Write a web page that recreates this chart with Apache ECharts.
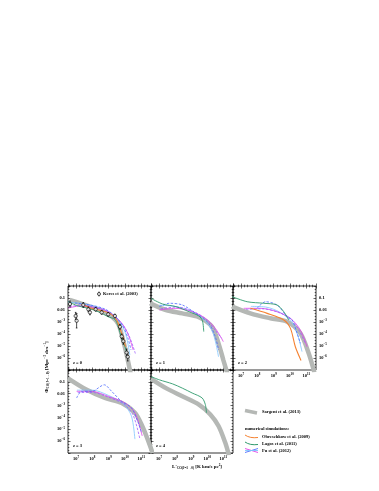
<!DOCTYPE html>
<html>
<head>
<meta charset="utf-8">
<script src="https://cdn.jsdelivr.net/npm/echarts@6/dist/echarts.min.js"></script>
<style>
html, body { margin: 0; padding: 0; background: #fff; }
#chart { width: 379px; height: 491px; }
</style>
</head>
<body>
<div id="chart"></div>
<script>
// all values are log10: [log L'CO (K km/s pc^2), log Phi (Mpc^-3 dex^-1)]
const zLabels = ['z = 0', 'z = 1', 'z = 2', 'z = 3', 'z = 4'];
const xTicks = [7, 8, 9, 10, 11];
const yTicks = [-1, -2, -3, -4, -5, -6];

// Sargent et al. (2013), one per panel
const sargent = [
    [[6.6, -1.15], [7.5, -1.55], [8.5, -2.05], [9.2, -2.55], [9.6, -3.2], [9.9, -4.6], [10.1, -5.7], [10.35, -7.3]],
    [[6.45, -1.45], [7.43, -2.0], [8.45, -2.28], [9.48, -2.6], [10.29, -3.39], [10.7, -4.78], [11.0, -6.17], [11.25, -7.3]],
    [[6.45, -1.72], [7.57, -2.28], [8.8, -2.69], [9.83, -2.97], [10.64, -3.94], [11.15, -5.6], [11.5, -7.2]],
    [[6.5, -0.7], [7.65, -1.67], [8.77, -2.36], [9.8, -2.78], [10.61, -3.61], [11.06, -4.72], [11.39, -5.83], [11.7, -7]],
    [[6.5, -0.75], [7.43, -1.53], [8.45, -2.22], [9.48, -2.92], [10.19, -3.75], [10.7, -4.72], [11.11, -6.1], [11.35, -7.2]]
];

// Obreschkow et al. (2009)
const obreschkow = [
    [[7.34, -1.5], [7.95, -1.86], [8.57, -2.06], [9.08, -2.28], [9.49, -2.83], [9.69, -3.53], [9.9, -4.36], [10.04, -5.06]],
    null,
    [[7.57, -1.86], [8.6, -2.28], [9.62, -2.83], [10.03, -3.53], [10.33, -5.06], [10.68, -6.2]],
    null,
    null
];

// Lagos et al. (2011)
const lagos = [
    [[6.52, -1.31], [7.13, -1.67], [7.75, -1.86], [8.36, -2.14], [8.97, -2.56], [9.38, -2.78], [9.59, -3.39], [9.79, -4.36], [10.0, -5.06], [10.1, -5.5]],
    [[6.5, -1.03], [7.22, -1.5], [8.05, -1.72], [8.86, -2.14], [9.48, -2.5], [9.7, -2.9], [9.78, -3.8]],
    [[6.45, -0.89], [7.37, -1.31], [8.39, -1.44], [9.2, -1.58], [9.62, -2.14], [9.92, -2.83]],
    null,
    [[6.5, -0.56], [7.02, -0.83], [7.84, -1.17], [8.45, -1.53], [9.06, -1.94], [9.68, -2.36], [9.88, -2.92], [9.95, -3.61]]
];

// Fu et al. (2012), four variants
const fuMagenta = [
    [[6.52, -1.83], [7.23, -1.67], [8.2, -1.8], [8.77, -2.0], [9.2, -2.33], [9.57, -2.75], [9.93, -3.33], [10.24, -4.17], [10.5, -5.33]],
    [[7.02, -2.0], [8.05, -1.86], [9.06, -2.14], [9.88, -2.69], [10.5, -3.53], [11.0, -4.64]],
    [[7.16, -1.86], [8.19, -1.86], [9.2, -2.14], [10.03, -2.69], [10.64, -3.67], [11.05, -5.06]],
    [[7.03, -1.8], [7.95, -1.8], [8.97, -2.22], [10.0, -2.78], [10.61, -3.61], [11.06, -5.56]],
    null
];
const fuViolet = [
    [[6.6, -1.7], [7.4, -1.6], [8.3, -1.85], [9.0, -2.2], [9.5, -2.7], [9.95, -3.4], [10.3, -4.3], [10.65, -5.67]],
    [[7.1, -1.9], [8.1, -1.75], [9.1, -2.1], [9.9, -2.75], [10.5, -3.7], [10.9, -4.36]],
    [[7.3, -1.95], [8.3, -1.9], [9.3, -2.2], [10.1, -2.8], [10.6, -3.8], [10.95, -4.8]],
    [[7.1, -1.9], [8.0, -1.9], [9.0, -2.3], [9.95, -2.9], [10.5, -3.8], [10.92, -5.83]],
    null
];
const fuLightBlue = [
    [[6.5, -1.33], [7.54, -1.5], [8.46, -1.83], [9.2, -2.33], [9.69, -3.0], [10.06, -4.08], [10.3, -5.75]],
    [[7.0, -1.6], [8.0, -1.7], [9.0, -2.1], [9.8, -2.8], [10.35, -3.9], [10.7, -5.9]],
    [[7.6, -1.7], [8.5, -1.75], [9.4, -2.2], [10.1, -3.0], [10.5, -4.2], [10.74, -5.47]],
    [[7.05, -1.7], [8.0, -1.7], [9.0, -2.15], [9.9, -2.85], [10.4, -3.89], [10.61, -5.83]],
    null
];
const fuBlueDash = [
    [[6.93, -1.42], [7.85, -1.58], [8.77, -1.92], [9.38, -2.5], [9.87, -3.33], [10.18, -4.33], [10.37, -5.33]],
    [[7.02, -1.72], [7.63, -1.44], [8.45, -1.58], [9.27, -2.28], [10.09, -3.11], [10.5, -4.22], [10.7, -5.33]],
    [[7.98, -1.86], [8.5, -1.31], [9.2, -1.58], [9.83, -2.56], [10.13, -2.83], [10.44, -3.94], [10.64, -4.78]],
    [[7.03, -2.36], [7.34, -1.8], [7.95, -1.8], [8.73, -1.25], [9.18, -1.8], [9.79, -2.64], [10.4, -3.19], [10.81, -4.44], [11.02, -5.28]],
    null
];

// Keres et al. (2003), z = 0 only
const keresL = [6.62, 6.97, 7.03, 7.44, 7.75, 7.85, 8.2, 8.57, 8.97, 9.38, 9.69, 9.8, 9.9, 10.1, 10.17];
const keresPhi = [-1.5, -2.5, -2.9, -1.58, -1.94, -2.2, -1.94, -2.2, -2.36, -2.5, -3.4, -4.2, -4.6, -5.55, -5.9];
const keresErr = [0.25, 0.3, 0.6, 0.2, 0.2, 0.2, 0.15, 0.15, 0.15, 0.15, 0.2, 0.2, 0.25, 0.3, 0.35];

const FONT = 'Liberation Serif';
const panels = [
    { left: 68, top: 286, w: 83, h: 84, xLab: false, yLab: 'left' },
    { left: 151, top: 286, w: 82, h: 84, xLab: false, yLab: null },
    { left: 233, top: 286, w: 83, h: 84, xLab: true, yLab: 'right' },
    { left: 68, top: 370, w: 83, h: 83, xLab: true, yLab: 'left' },
    { left: 151, top: 370, w: 82, h: 83, xLab: true, yLab: null }
];

const rich = {
    s: { fontSize: 3.2, fontFamily: FONT, fontWeight: 'bold', padding: [0, 0, 3, 0], color: '#000' }
};
function xFmt(v) {
    return xTicks.indexOf(v) >= 0 ? '10{s|' + v + '}' : '';
}
function yFmt(v) {
    if (yTicks.indexOf(v) < 0) return '';
    if (v === -1) return '0.1';
    if (v === -2) return '0.01';
    return '10{s|\u2212' + (-v) + '}';
}

const tickStyle = { color: '#000', width: 0.6 };
const labelStyle = { fontSize: 4.5, fontFamily: FONT, fontWeight: 'bold', color: '#000', rich: rich };

const grids = [], xAxes = [], yAxes = [], series = [], graphics = [];

panels.forEach((p, i) => {
    grids.push({ left: p.left, top: p.top, width: p.w, height: p.h, show: true,
        borderColor: '#000', borderWidth: 0.8, backgroundColor: 'transparent' });
    ['bottom', 'top'].forEach(pos => {
        xAxes.push({
            gridIndex: i, type: 'value', min: 6.5, max: 11.6, position: pos, splitNumber: 5,
            axisLine: { show: false }, splitLine: { show: false },
            axisTick: { inside: true, length: 2.5, lineStyle: tickStyle },
            minorTick: { show: true, splitNumber: 5, length: 1.3, lineStyle: tickStyle },
            axisLabel: Object.assign({ show: pos === 'bottom' && p.xLab, formatter: xFmt, margin: 3 }, labelStyle)
        });
    });
    ['left', 'right'].forEach(pos => {
        yAxes.push({
            gridIndex: i, type: 'value', min: -7, max: 0, interval: 1, position: pos,
            axisLine: { show: false }, splitLine: { show: false },
            axisTick: { inside: true, length: 2.5, lineStyle: tickStyle },
            minorTick: { show: true, splitNumber: 4, length: 1.3, lineStyle: tickStyle },
            axisLabel: Object.assign({ show: p.yLab === pos, formatter: yFmt, margin: 3,
                align: pos === 'left' ? 'right' : 'left' }, labelStyle)
        });
    });

    const ax = { xAxisIndex: 2 * i, yAxisIndex: 2 * i };
    function addLine(data, color, width, dashed, z) {
        if (!data) return;
        series.push(Object.assign({
            type: 'line', data: data, showSymbol: false, smooth: 0.3, clip: true, z: z,
            lineStyle: { color: color, width: width, type: dashed ? [2.5, 1.5] : 'solid' },
            silent: true
        }, ax));
    }
    addLine(sargent[i], '#b5b8b5', 4.5, false, 1);
    addLine(lagos[i], '#2f9a6c', 0.9, false, 3);
    addLine(obreschkow[i], '#f58231', 1.1, false, 3);
    addLine(fuLightBlue[i], '#7fc4ff', 0.8, false, 2);
    addLine(fuMagenta[i], '#e040e8', 0.8, false, 2);
    addLine(fuViolet[i], '#a05cff', 0.8, true, 2);
    addLine(fuBlueDash[i], '#4c6bff', 0.8, true, 2);

    graphics.push({ type: 'text', x: p.left + 5, y: p.top + p.h - 7,
        style: { text: zLabels[i], fontSize: 4.5, fontFamily: FONT, fontWeight: 'bold', fill: '#000',
            verticalAlign: 'middle' } });
});

// Keres data with error bars on the z = 0 panel
const keresPts = keresL.map((l, k) => [l, keresPhi[k], keresErr[k]]);
series.push({
    type: 'custom', xAxisIndex: 0, yAxisIndex: 0, data: keresPts, z: 5, silent: true,
    renderItem: function (params, api) {
        const a = api.coord([api.value(0), api.value(1) - api.value(2)]);
        const b = api.coord([api.value(0), api.value(1) + api.value(2)]);
        return { type: 'group', children: [
            { type: 'line', shape: { x1: a[0], y1: a[1], x2: b[0], y2: b[1] }, style: { stroke: '#000', lineWidth: 0.7 } },
            { type: 'line', shape: { x1: a[0] - 0.8, y1: a[1], x2: a[0] + 0.8, y2: a[1] }, style: { stroke: '#000', lineWidth: 0.7 } },
            { type: 'line', shape: { x1: b[0] - 0.8, y1: b[1], x2: b[0] + 0.8, y2: b[1] }, style: { stroke: '#000', lineWidth: 0.7 } }
        ] };
    }
});
series.push({
    type: 'scatter', xAxisIndex: 0, yAxisIndex: 0, z: 6, silent: true,
    data: keresL.map((l, k) => [l, keresPhi[k]]),
    symbol: 'circle', symbolSize: 3.3,
    itemStyle: { color: '#fff', borderColor: '#000', borderWidth: 0.8 }
});

const txt = { fontFamily: FONT, fontWeight: 'bold', fill: '#000' };
// Keres key
graphics.push(
    { type: 'line', shape: { x1: 99, y1: 291.5, x2: 99, y2: 296.5 }, style: { stroke: '#000', lineWidth: 0.7 } },
    { type: 'circle', shape: { cx: 99, cy: 294, r: 1.5 }, style: { fill: '#fff', stroke: '#000', lineWidth: 0.7 } },
    { type: 'text', x: 103, y: 294, style: Object.assign({ text: 'Keres et al. (2003)', fontSize: 4.5, verticalAlign: 'middle' }, txt) }
);

// axis names
graphics.push({
    type: 'text', x: 197, y: 467,
    style: Object.assign({
        text: "L\u2032{b|CO(J=1\u21920)} [K km/s pc{p|2}]", fontSize: 5, align: 'center', verticalAlign: 'middle',
        rich: { b: { fontSize: 3.3, fontFamily: FONT, fontWeight: 'bold', padding: [3, 0, 0, 0] },
                p: { fontSize: 3.3, fontFamily: FONT, fontWeight: 'bold', padding: [0, 0, 3, 0] } }
    }, txt)
});
graphics.push({
    type: 'text', x: 47, y: 367, rotation: Math.PI / 2,
    style: Object.assign({
        text: "\u03a6{b|CO(J=1\u21920)} [Mpc{p|\u22123} dex{p|\u22121}]", fontSize: 5, align: 'center', verticalAlign: 'middle',
        rich: { b: { fontSize: 3.3, fontFamily: FONT, fontWeight: 'bold', padding: [3, 0, 0, 0] },
                p: { fontSize: 3.3, fontFamily: FONT, fontWeight: 'bold', padding: [0, 0, 3, 0] } }
    }, txt)
});

// legend block in the empty cell
graphics.push(
    { type: 'line', shape: { x1: 245, y1: 410.5, x2: 257, y2: 413 }, style: { stroke: '#b5b8b5', lineWidth: 3.5 } },
    { type: 'text', x: 262, y: 412, style: Object.assign({ text: 'Sargent et al. (2013)', fontSize: 4.5, verticalAlign: 'middle' }, txt) },
    { type: 'text', x: 245, y: 429, style: Object.assign({ text: 'numerical simulations:', fontSize: 4.5, verticalAlign: 'middle' }, txt) },
    { type: 'bezierCurve', shape: { x1: 245, y1: 435, x2: 258, y2: 437.5, cpx1: 250, cpy1: 438.5 }, style: { stroke: '#f58231', lineWidth: 1, fill: null } },
    { type: 'text', x: 262, y: 437, style: Object.assign({ text: 'Obreschkow et al. (2009)', fontSize: 4.5, verticalAlign: 'middle' }, txt) },
    { type: 'bezierCurve', shape: { x1: 245, y1: 442, x2: 258, y2: 444.5, cpx1: 250, cpy1: 445.5 }, style: { stroke: '#2f9a6c', lineWidth: 1, fill: null } },
    { type: 'text', x: 262, y: 444, style: Object.assign({ text: 'Lagos et al. (2011)', fontSize: 4.5, verticalAlign: 'middle' }, txt) },
    { type: 'line', shape: { x1: 245, y1: 448.5, x2: 258, y2: 452.5 }, style: { stroke: '#e040e8', lineWidth: 0.9 } },
    { type: 'line', shape: { x1: 245, y1: 452.5, x2: 258, y2: 448.5 }, style: { stroke: '#4c6bff', lineWidth: 0.9 } },
    { type: 'line', shape: { x1: 245, y1: 450.5, x2: 258, y2: 450.5 }, style: { stroke: '#7fc4ff', lineWidth: 0.9 } },
    { type: 'text', x: 262, y: 451, style: Object.assign({ text: 'Fu et al. (2012)', fontSize: 4.5, verticalAlign: 'middle' }, txt) }
);

const chart = echarts.init(document.getElementById('chart'));
chart.setOption({
    animation: false,
    backgroundColor: '#fff',
    grid: grids,
    xAxis: xAxes,
    yAxis: yAxes,
    series: series,
    graphic: graphics
});
</script>
</body>
</html>
